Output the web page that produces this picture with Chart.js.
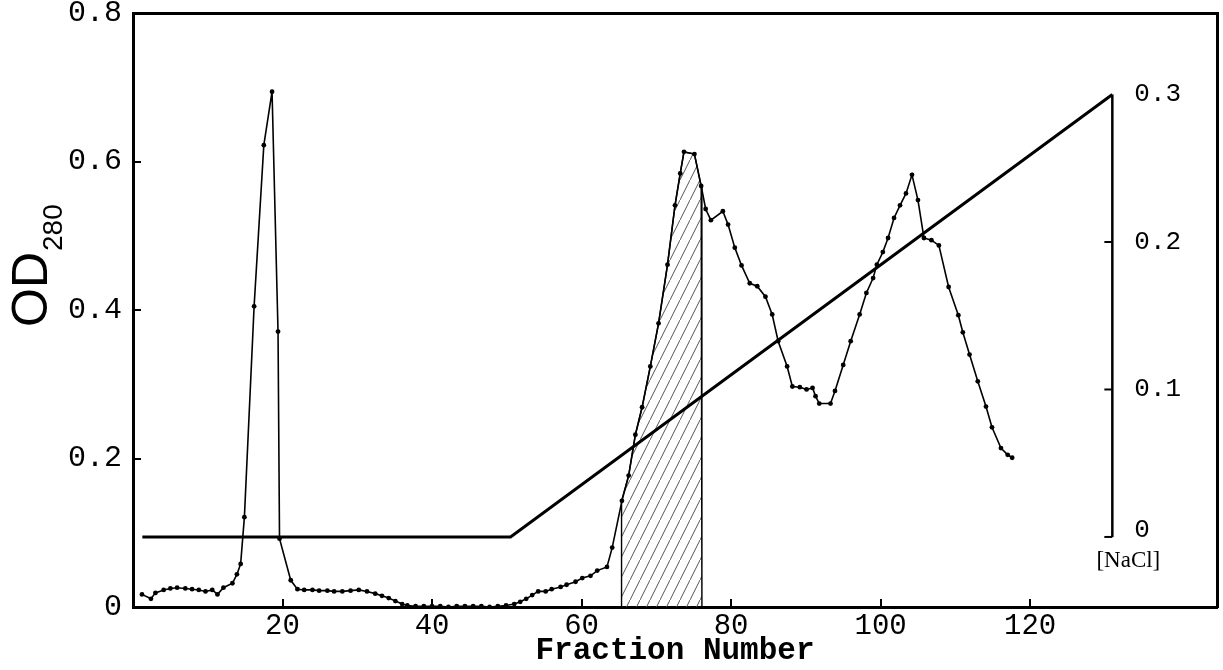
<!DOCTYPE html>
<html>
<head>
<meta charset="utf-8">
<script src="https://cdn.jsdelivr.net/npm/chart.js@4"></script>
<style>
  html, body { margin: 0; padding: 0; background: #fff; }
  #wrap { width: 1223px; height: 670px; position: relative; }
</style>
</head>
<body>
<div id="wrap"><canvas id="chart"></canvas></div>
<script>
// OD280 elution profile (fraction, absorbance)
const fractions = [
  1.2, 2.4, 3.0, 4.1, 5.0, 5.9, 7.0, 7.9, 8.8, 9.7, 10.6, 11.3, 12.1, 13.3, 13.9, 14.4,
  14.9, 16.2, 17.5, 18.6, 19.4, 19.6, 21.1, 22.0, 22.9, 24.0, 24.9, 26.0, 26.9, 28.0,
  29.1, 30.2, 31.3, 32.4, 33.3, 34.2, 35.1, 36.0, 36.7, 37.8, 38.9, 40.0, 41.1, 42.2,
  43.3, 44.4, 45.5, 46.6, 47.7, 48.8, 49.9, 51.0, 51.8, 52.6, 53.4, 54.2, 55.2, 56.0,
  57.2, 58.0, 59.2, 60.1, 61.2, 62.1, 63.4, 64.1, 65.4, 66.3, 67.2, 68.1, 69.2, 70.3,
  71.5, 72.5, 73.2, 73.7, 75.1, 76.0, 76.6, 77.3, 78.9, 79.6, 80.5, 81.4, 82.5, 83.5,
  84.6, 85.5, 86.3, 87.5, 88.2, 89.2, 90.1, 90.9, 91.3, 91.8, 93.3, 93.9, 95.0, 96.0,
  97.2, 98.1, 99.0, 99.5, 100.3, 101.0, 101.8, 102.6, 103.4, 104.2, 105.0, 105.8,
  106.8, 107.8, 109.1, 110.4, 111.0, 111.9, 113.0, 114.1, 114.9, 116.1, 117.0, 117.6
];
const od = [
  0.017, 0.011, 0.019, 0.023, 0.025, 0.026, 0.025, 0.024, 0.023, 0.021, 0.023, 0.017, 0.026, 0.032, 0.044, 0.058,
  0.121, 0.405, 0.622, 0.694, 0.371, 0.092, 0.036, 0.024, 0.023, 0.023, 0.022, 0.022, 0.021, 0.021,
  0.022, 0.023, 0.021, 0.018, 0.015, 0.012, 0.008, 0.004, 0.002, 0.001, 0.001, 0.001, 0.001, 0.000,
  0.001, 0.001, 0.001, 0.001, 0.000, 0.001, 0.002, 0.004, 0.007, 0.011, 0.016, 0.021, 0.021, 0.024,
  0.027, 0.030, 0.034, 0.039, 0.042, 0.049, 0.054, 0.080, 0.143, 0.177, 0.232, 0.269, 0.324, 0.382,
  0.461, 0.541, 0.584, 0.613, 0.610, 0.567, 0.536, 0.521, 0.533, 0.515, 0.484, 0.460, 0.436, 0.432,
  0.418, 0.394, 0.358, 0.324, 0.297, 0.296, 0.293, 0.295, 0.284, 0.274, 0.274, 0.291, 0.326, 0.358,
  0.394, 0.423, 0.443, 0.461, 0.478, 0.497, 0.524, 0.541, 0.557, 0.582, 0.548, 0.497,
  0.494, 0.487, 0.431, 0.393, 0.370, 0.340, 0.304, 0.270, 0.242, 0.214, 0.205, 0.201
];

// NaCl gradient (fraction, molarity)
const naclFractions = [1.25, 50.5, 131];
const naclValues = [0, 0, 0.3];
const naclAxisAt = 131;
const naclTicks = [0, 0.1, 0.2, 0.3];
const naclLabels = ["0", "0.1", "0.2", "0.3"];

// pooled fractions (hatched), with the curve height at each edge
const hatchFractions = [65.3, 76.1];
const hatchTops = [0.136, 0.53];

const xTicks = [20, 40, 60, 80, 100, 120];
const yTicks = [0, 0.2, 0.4, 0.6, 0.8];

const MONO = '"Liberation Mono", "Courier New", monospace';

function hatchPattern() {
  const c = document.createElement("canvas");
  c.width = 10;
  c.height = 20;
  const g = c.getContext("2d");
  g.strokeStyle = "#555";
  g.lineWidth = 1;
  g.beginPath();
  g.moveTo(-5, 30);
  g.lineTo(15, -10);
  g.stroke();
  return g.createPattern(c, "repeat");
}

const odPoints = fractions.map((f, i) => ({ x: f, y: od[i] }));
const naclPoints = naclFractions.map((f, i) => ({ x: f, y: naclValues[i] }));

const hatchPoints = [
  { x: hatchFractions[0], y: 0 },
  { x: hatchFractions[0], y: hatchTops[0] },
  ...odPoints.filter((p) => p.x > hatchFractions[0] && p.x < hatchFractions[1]),
  { x: hatchFractions[1], y: hatchTops[1] },
  { x: hatchFractions[1], y: 0 },
];

// y title with subscript + the NaCl axis labels drawn inside the plot
const extras = {
  id: "extras",
  afterDraw(chart) {
    const { ctx, scales } = chart;
    const ax = scales.x.getPixelForValue(naclAxisAt);
    ctx.save();
    ctx.fillStyle = "#000";
    ctx.strokeStyle = "#000";
    ctx.lineWidth = 2;
    ctx.font = "26px " + MONO;
    ctx.textAlign = "left";
    ctx.textBaseline = "middle";
    naclTicks.forEach((v, i) => {
      const py = scales.y2.getPixelForValue(v);
      if (v < 0.3) {
        ctx.beginPath();
        ctx.moveTo(ax - 8, py);
        ctx.lineTo(ax, py);
        ctx.stroke();
      }
      ctx.fillText(naclLabels[i], ax + 22, v === 0 ? py - 7 : py);
    });
    ctx.font = '23px "Liberation Serif", serif';
    ctx.textAlign = "center";
    ctx.fillText("[NaCl]", ax + 16, scales.y2.getPixelForValue(0) + 24);

    ctx.translate(47, 327);
    ctx.rotate(-Math.PI / 2);
    ctx.textAlign = "left";
    ctx.textBaseline = "alphabetic";
    ctx.font = '50px "Liberation Sans", sans-serif';
    ctx.fillText("OD", 0, 0);
    const w = ctx.measureText("OD").width;
    ctx.font = '28px "Liberation Sans", sans-serif';
    ctx.fillText("280", w + 1, 15);
    ctx.restore();
  },
};

const noPadding = (s) => {
  s.paddingTop = 0;
  s.paddingBottom = 0;
  s.paddingLeft = 0;
  s.paddingRight = 0;
};

const frameAxis = (position) => ({
  type: "linear",
  position,
  display: true,
  border: { display: true, color: "#000", width: 3 },
  grid: { drawOnChartArea: false, drawTicks: false },
  ticks: { display: false },
});

new Chart(document.getElementById("chart"), {
  type: "scatter",
  data: {
    datasets: [
      {
        label: "OD280",
        data: odPoints,
        showLine: true,
        borderColor: "#000",
        borderWidth: 1.6,
        pointRadius: 2.4,
        pointBackgroundColor: "#000",
        pointBorderWidth: 0,
        tension: 0,
        order: 0,
        yAxisID: "y",
      },
      {
        label: "NaCl",
        data: naclPoints,
        showLine: true,
        borderColor: "#000",
        borderWidth: 3,
        pointRadius: 0,
        order: 1,
        yAxisID: "y2",
      },
      {
        label: "NaCl axis",
        data: [
          { x: naclAxisAt, y: naclTicks[0] },
          { x: naclAxisAt, y: naclTicks[naclTicks.length - 1] },
        ],
        showLine: true,
        borderColor: "#000",
        borderWidth: 2.5,
        pointRadius: 0,
        order: 1,
        yAxisID: "y2",
      },
      {
        label: "pool",
        data: hatchPoints,
        showLine: true,
        borderColor: "#000",
        borderWidth: 1.4,
        pointRadius: 0,
        fill: "origin",
        backgroundColor: hatchPattern(),
        order: 2,
        yAxisID: "y",
      },
    ],
  },
  options: {
    responsive: true,
    maintainAspectRatio: false,
    animation: false,
    events: [],
    layout: { padding: { top: 13, right: 6, left: 0, bottom: 0 } },
    plugins: { legend: { display: false }, tooltip: { enabled: false } },
    scales: {
      x: {
        type: "linear",
        position: "bottom",
        min: 0,
        max: 145,
        afterBuildTicks: (s) => {
          s.ticks = xTicks.map((v) => ({ value: v }));
        },
        afterFit: (s) => {
          s.height = 63;
          noPadding(s);
        },
        border: { display: true, color: "#000", width: 3 },
        grid: { drawOnChartArea: false, tickLength: -8, color: "#000", lineWidth: 2 },
        ticks: {
          color: "#000",
          padding: 10,
          autoSkip: false,
          maxRotation: 0,
          font: { family: MONO, size: 29 },
          callback: (v) => String(v),
        },
        title: {
          display: true,
          text: "Fraction Number",
          color: "#000",
          font: { family: MONO, size: 31, weight: "bold" },
          padding: { top: 0, bottom: 0 },
        },
      },
      y: {
        type: "linear",
        position: "left",
        min: 0,
        max: 0.8,
        afterBuildTicks: (s) => {
          s.ticks = yTicks.map((v) => ({ value: v }));
        },
        afterFit: (s) => {
          s.width = 133;
          noPadding(s);
        },
        border: { display: true, color: "#000", width: 3 },
        grid: { drawOnChartArea: false, tickLength: -8, color: "#000", lineWidth: 2 },
        ticks: {
          color: "#000",
          padding: 19,
          font: { family: MONO, size: 30 },
          callback: (v) => (v === 0 ? "0" : v.toFixed(1)),
        },
      },
      xTop: {
        ...frameAxis("top"),
        min: 0,
        max: 145,
        afterFit: (s) => {
          s.height = 0;
          noPadding(s);
        },
      },
      y2: {
        ...frameAxis("right"),
        min: -0.0475,
        max: 0.3553,
        afterFit: (s) => {
          s.width = 0;
          noPadding(s);
        },
      },
    },
  },
  plugins: [extras],
});
</script>
</body>
</html>
